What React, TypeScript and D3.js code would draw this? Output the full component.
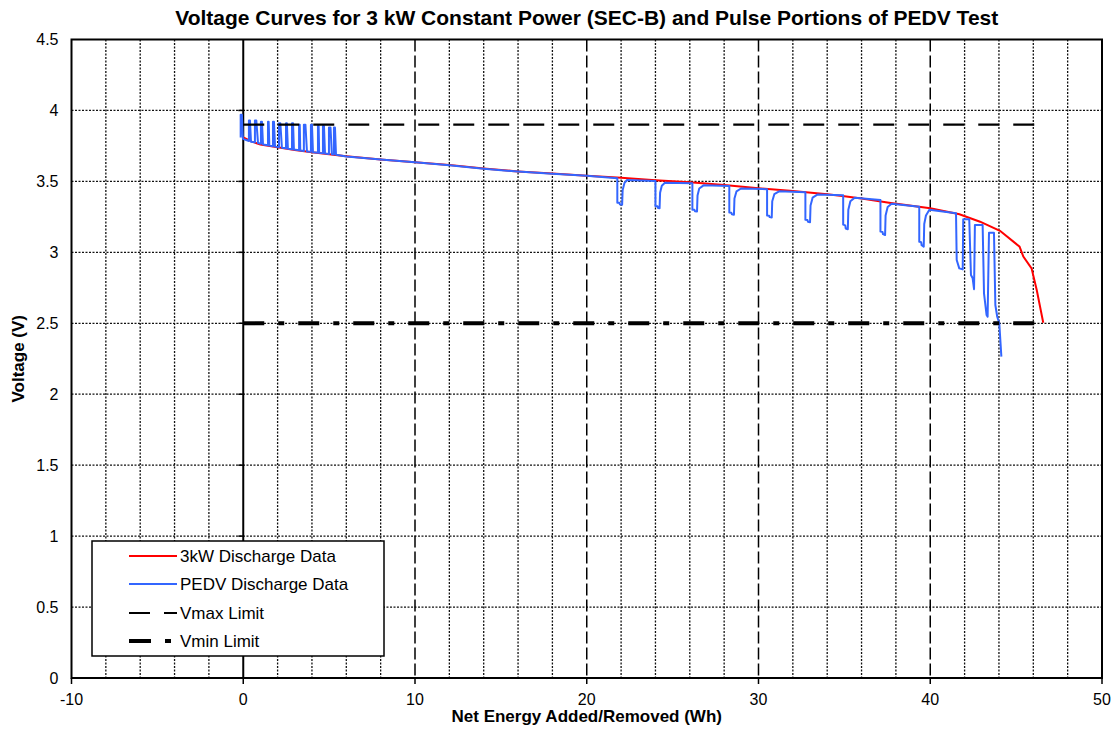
import { useEffect, useRef } from 'react';
import * as d3 from 'd3';

// axis ticks
const xTickValues = [-10, 0, 10, 20, 30, 40, 50];
const yTickValues = [0, 0.5, 1, 1.5, 2, 2.5, 3, 3.5, 4, 4.5];
const xGridValues = [-8, -6, -4, -2, 2, 4, 6, 8, 12, 14, 16, 18, 22, 24, 26, 28, 32, 34, 36, 38, 42, 44, 46, 48];
const xMajorGridValues = [10, 20, 30, 40];
const yGridValues = [0.5, 1, 1.5, 2, 2.5, 3, 3.5, 4];

// 3 kW constant power discharge
const cpEnergy = [0, 0.5, 1, 2, 3, 4, 5, 6, 8, 10, 12, 14, 16, 18, 20, 22, 24, 26, 28, 30, 32, 34, 35, 36, 37.6, 40, 41.7, 42.9, 44.06, 45.2, 45.42, 45.9, 46.2, 46.58];
const cpVoltage = [3.81, 3.78, 3.76, 3.74, 3.722, 3.706, 3.692, 3.678, 3.655, 3.635, 3.615, 3.59, 3.57, 3.555, 3.54, 3.525, 3.508, 3.494, 3.475, 3.452, 3.432, 3.41, 3.395, 3.38, 3.35, 3.31, 3.268, 3.216, 3.152, 3.04, 2.97, 2.887, 2.734, 2.504];

// PEDV: regen pulses at start of test
const pedvRegen: [number, number][] = [
  [-0.15, 3.81], [-0.15, 3.97], [-0.08, 3.97], [-0.02, 3.8],
  [0.33, 3.785], [0.33, 3.93], [0.39, 3.93], [0.45, 3.78],
  [0.68, 3.775], [0.68, 3.93], [0.76, 3.93], [0.86, 3.77],
  [1.03, 3.765], [1.03, 3.92], [1.09, 3.92], [1.15, 3.76],
  [1.44, 3.755], [1.44, 3.92], [1.48, 3.92], [1.52, 3.752],
  [1.73, 3.748], [1.73, 3.92], [1.79, 3.92], [1.85, 3.745],
  [2.08, 3.74], [2.08, 3.91], [2.16, 3.91], [2.25, 3.737],
  [2.49, 3.733], [2.49, 3.91], [2.54, 3.91], [2.6, 3.73],
  [2.84, 3.726], [2.84, 3.91], [2.9, 3.91], [2.95, 3.724],
  [3.25, 3.72], [3.25, 3.9], [3.29, 3.9], [3.32, 3.718],
  [3.53, 3.714], [3.53, 3.9], [3.62, 3.9], [3.71, 3.711],
  [3.94, 3.708], [3.94, 3.9], [4.0, 3.9], [4.06, 3.706],
  [4.35, 3.702], [4.35, 3.89], [4.39, 3.89], [4.42, 3.701],
  [4.64, 3.698], [4.64, 3.89], [4.7, 3.89], [4.76, 3.696],
  [4.99, 3.693], [4.99, 3.88], [5.08, 3.88], [5.16, 3.691],
  [5.28, 3.69], [5.28, 3.88], [5.34, 3.88], [5.4, 3.688],
];

// PEDV: discharge pulses
const pedvDischarge: [number, number][] = [
  [6, 3.676], [8, 3.655], [10, 3.635], [12, 3.614], [14, 3.589], [16, 3.569], [18, 3.554], [20, 3.539], [21.78, 3.522],
  [21.78, 3.35], [21.9, 3.35], [21.93, 3.338], [22.06, 3.336], [22.09, 3.44], [22.2, 3.49], [22.35, 3.51], [24.0, 3.502],
  [24.0, 3.325], [24.12, 3.324], [24.15, 3.312], [24.24, 3.31], [24.27, 3.42], [24.37, 3.47], [24.55, 3.49], [26.15, 3.487],
  [26.15, 3.3], [26.27, 3.3], [26.3, 3.29], [26.42, 3.288], [26.45, 3.4], [26.55, 3.45], [26.8, 3.472], [28.3, 3.468],
  [28.3, 3.28], [28.42, 3.279], [28.45, 3.268], [28.57, 3.265], [28.6, 3.38], [28.72, 3.43], [28.98, 3.45], [30.5, 3.445],
  [30.5, 3.26], [30.62, 3.258], [30.65, 3.248], [30.77, 3.245], [30.8, 3.36], [30.92, 3.41], [31.2, 3.43], [32.73, 3.424],
  [32.73, 3.23], [32.85, 3.228], [32.88, 3.215], [33.0, 3.212], [33.03, 3.33], [33.15, 3.385], [33.45, 3.408], [34.93, 3.402],
  [34.93, 3.195], [35.05, 3.19], [35.08, 3.168], [35.2, 3.163], [35.23, 3.3], [35.35, 3.36], [35.6, 3.385], [37.1, 3.368],
  [37.1, 3.146], [37.22, 3.144], [37.25, 3.128], [37.37, 3.122], [37.4, 3.26], [37.52, 3.32], [37.75, 3.342], [39.36, 3.322],
  [39.36, 3.075], [39.47, 3.072], [39.5, 3.05], [39.62, 3.04], [39.65, 3.2], [39.75, 3.26], [39.95, 3.3], [41.5, 3.275],
];

// PEDV: final pulses to cutoff
const pedvCutoff: [number, number][] = [
  [41.54, 2.946], [41.69, 2.887], [41.89, 2.88], [41.92, 3.233], [42.27, 3.233],
  [42.37, 2.84], [42.47, 2.817], [42.55, 2.74], [42.6, 3.193], [43.05, 3.193],
  [43.13, 2.711], [43.28, 2.558], [43.34, 2.546], [43.42, 3.138], [43.71, 3.138],
  [43.79, 2.629], [43.9, 2.546], [44.02, 2.5], [44.14, 2.265],
];

// limits
const limitEnergy = [0, 46.6];
const vmaxLimit = 3.9;
const vminLimit = 2.5;

const legendLabels = ['3kW Discharge Data', 'PEDV Discharge Data', 'Vmax Limit', 'Vmin Limit'];

const FONT = "'Liberation Sans', Arial, Helvetica, sans-serif";

export default function App() {
  const svgRef = useRef<SVGSVGElement>(null);

  useEffect(() => {
    if (!svgRef.current) return;
    const svg = d3.select(svgRef.current);
    svg.selectAll('*').remove();

    const W = 1115;
    const H = 742;
    const left = 71.5;
    const right = 1102;
    const top = 39.5;
    const bottom = 678;

    svg.attr('width', W).attr('height', H).style('font-family', FONT);
    svg.append('rect').attr('width', W).attr('height', H).attr('fill', '#fff');

    const x = d3.scaleLinear().domain([-10, 50]).range([left, right]);
    const y = d3.scaleLinear().domain([0, 4.5]).range([bottom, top]);

    // Grid
    const grid = svg.append('g');
    grid
      .selectAll('.hgrid')
      .data(yGridValues)
      .enter()
      .append('line')
      .attr('x1', left)
      .attr('x2', right)
      .attr('y1', (d) => y(d))
      .attr('y2', (d) => y(d))
      .attr('stroke', '#111')
      .attr('stroke-width', 1.3)
      .attr('stroke-dasharray', '2,1.5');

    grid
      .selectAll('.vgrid')
      .data(xGridValues)
      .enter()
      .append('line')
      .attr('x1', (d) => x(d))
      .attr('x2', (d) => x(d))
      .attr('y1', top)
      .attr('y2', bottom)
      .attr('stroke', '#111')
      .attr('stroke-width', 1.3)
      .attr('stroke-dasharray', '2,1.5');

    grid
      .selectAll('.vmajor')
      .data(xMajorGridValues)
      .enter()
      .append('line')
      .attr('x1', (d) => x(d))
      .attr('x2', (d) => x(d))
      .attr('y1', top)
      .attr('y2', bottom)
      .attr('stroke', '#000')
      .attr('stroke-width', 1.5)
      .attr('stroke-dasharray', '12,4');

    // Zero axis
    svg
      .append('line')
      .attr('x1', x(0))
      .attr('x2', x(0))
      .attr('y1', top)
      .attr('y2', bottom)
      .attr('stroke', '#000')
      .attr('stroke-width', 2);
    svg
      .selectAll('.ztick')
      .data(yGridValues)
      .enter()
      .append('line')
      .attr('x1', x(0) - 5)
      .attr('x2', x(0))
      .attr('y1', (d) => y(d))
      .attr('y2', (d) => y(d))
      .attr('stroke', '#000')
      .attr('stroke-width', 1.5);

    // Series
    const line = d3
      .line<[number, number]>()
      .x((d) => x(d[0]))
      .y((d) => y(d[1]));

    const cpData: [number, number][] = cpEnergy.map((e, i) => [e, cpVoltage[i]]);
    svg
      .append('path')
      .datum(cpData)
      .attr('fill', 'none')
      .attr('stroke', '#ff0000')
      .attr('stroke-width', 2)
      .attr('d', line);

    const pedvData = [...pedvRegen, ...pedvDischarge, ...pedvCutoff];
    svg
      .append('path')
      .datum(pedvData)
      .attr('fill', 'none')
      .attr('stroke', '#3366ff')
      .attr('stroke-width', 2)
      .attr('stroke-linejoin', 'round')
      .attr('d', line);

    svg
      .append('path')
      .datum(limitEnergy.map((e) => [e, vmaxLimit] as [number, number]))
      .attr('fill', 'none')
      .attr('stroke', '#000')
      .attr('stroke-width', 2.2)
      .attr('stroke-dasharray', '21,14')
      .attr('d', line);

    svg
      .append('path')
      .datum(limitEnergy.map((e) => [e, vminLimit] as [number, number]))
      .attr('fill', 'none')
      .attr('stroke', '#000')
      .attr('stroke-width', 4)
      .attr('stroke-dasharray', '21,14,6,14')
      .attr('d', line);

    // Frame
    svg
      .append('rect')
      .attr('x', left)
      .attr('y', top)
      .attr('width', right - left)
      .attr('height', bottom - top)
      .attr('fill', 'none')
      .attr('stroke', '#000')
      .attr('stroke-width', 2);

    // X axis ticks + labels
    svg
      .selectAll('.xtick')
      .data(xTickValues)
      .enter()
      .append('line')
      .attr('x1', (d) => x(d))
      .attr('x2', (d) => x(d))
      .attr('y1', bottom)
      .attr('y2', bottom + 6)
      .attr('stroke', '#000')
      .attr('stroke-width', 1.5);

    svg
      .selectAll('.xlabel')
      .data(xTickValues)
      .enter()
      .append('text')
      .attr('x', (d) => x(d))
      .attr('y', bottom + 27)
      .attr('text-anchor', 'middle')
      .attr('font-size', '16px')
      .attr('fill', '#000')
      .text((d) => String(d));

    svg
      .selectAll('.ylabel')
      .data(yTickValues)
      .enter()
      .append('text')
      .attr('x', left - 13)
      .attr('y', (d) => y(d))
      .attr('dy', '0.36em')
      .attr('text-anchor', 'end')
      .attr('font-size', '16px')
      .attr('fill', '#000')
      .text((d) => String(d));

    // Titles
    svg
      .append('text')
      .attr('x', (left + right) / 2)
      .attr('y', 25)
      .attr('text-anchor', 'middle')
      .attr('font-size', '21px')
      .attr('font-weight', 'bold')
      .text('Voltage Curves for 3 kW Constant Power (SEC-B) and Pulse Portions of PEDV Test');

    svg
      .append('text')
      .attr('x', (left + right) / 2)
      .attr('y', 722)
      .attr('text-anchor', 'middle')
      .attr('font-size', '17px')
      .attr('font-weight', 'bold')
      .text('Net Energy Added/Removed (Wh)');

    svg
      .append('text')
      .attr('transform', `translate(24,${(top + bottom) / 2}) rotate(-90)`)
      .attr('text-anchor', 'middle')
      .attr('font-size', '17px')
      .attr('font-weight', 'bold')
      .text('Voltage (V)');

    // Legend
    const legend = svg.append('g').attr('transform', 'translate(92,541)');
    legend
      .append('rect')
      .attr('width', 292)
      .attr('height', 115)
      .attr('fill', '#fff')
      .attr('stroke', '#000')
      .attr('stroke-width', 1.5);

    const rowY = [15, 43, 72, 100];
    const sampleStyles = [
      { stroke: '#ff0000', width: 2, dash: null },
      { stroke: '#3366ff', width: 2, dash: null },
      { stroke: '#000', width: 2.2, dash: '21,14' },
      { stroke: '#000', width: 4, dash: '22,14,6,14' },
    ];
    legendLabels.forEach((label, i) => {
      const s = sampleStyles[i];
      legend
        .append('line')
        .attr('x1', 37)
        .attr('x2', 85)
        .attr('y1', rowY[i])
        .attr('y2', rowY[i])
        .attr('stroke', s.stroke)
        .attr('stroke-width', s.width)
        .attr('stroke-dasharray', s.dash);
      legend
        .append('text')
        .attr('x', 88)
        .attr('y', rowY[i])
        .attr('dy', '0.36em')
        .attr('font-size', '17px')
        .attr('fill', '#000')
        .text(label);
    });
  }, []);

  return (
    <div style={{ position: 'absolute', left: 0, top: 0 }}>
      <svg ref={svgRef} />
    </div>
  );
}
